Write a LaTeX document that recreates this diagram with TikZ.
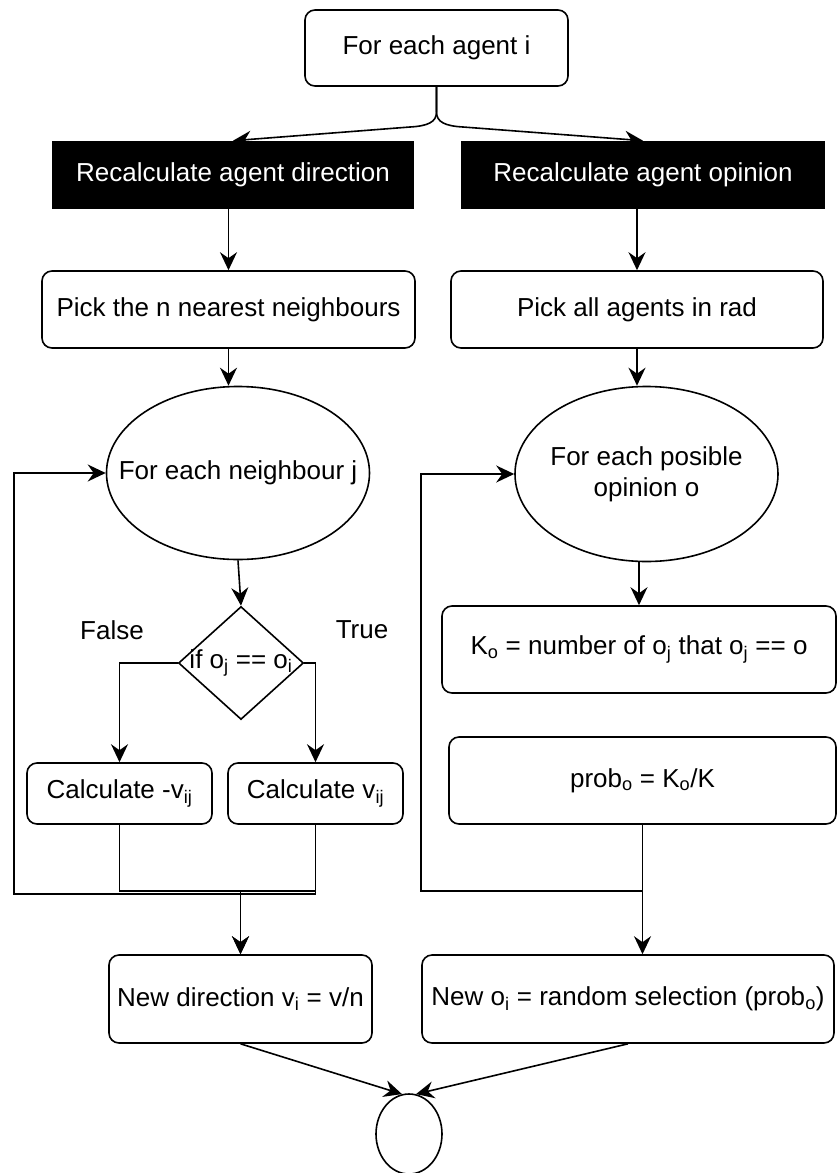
\documentclass[tikz,border=0pt]{standalone}
\usepackage{fontspec}
\setmainfont{Liberation Sans}
\usepackage{tikz}
\usetikzlibrary{arrows.meta,shapes.geometric,backgrounds}
\tikzset{
  procbox/.style={draw,line width=1.6pt,rounded corners=10pt,fill=white,align=center,inner sep=2pt},
  headbox/.style={draw,line width=1.6pt,fill=black,text=white,inner sep=2pt},
  loopnode/.style={draw,line width=1.6pt,ellipse,fill=white,inner sep=0pt},
  condnode/.style={draw,line width=1.6pt,diamond,fill=white,inner sep=0pt},
  flow/.style={line width=1.6pt,-{Stealth[length=18pt,width=17pt,inset=6pt]}},
}

\begin{document}
\begin{tikzpicture}[x=1pt,y=-1pt,font=\fontsize{26}{31}\selectfont]
  \useasboundingbox (0,0) rectangle (837,1173);
  \node[procbox,minimum width=263pt,minimum height=76pt] (agent) at (436.5,48) {For each agent i};
  \node[headbox,minimum width=360pt,minimum height=67pt] (dirbox) at (233,175) {Recalculate agent direction};
  \node[headbox,minimum width=362pt,minimum height=67pt] (opinbox) at (643,175) {Recalculate agent opinion};
  \node[procbox,minimum width=373pt,minimum height=77pt] (pickn) at (228.5,309.5) {Pick the n nearest neighbours};
  \node[procbox,minimum width=372pt,minimum height=77pt] (pickall) at (637,309.5) {Pick all agents in rad};
  \node[loopnode,minimum width=263pt,minimum height=173pt] (neigh) at (238,473) {};
  \node (neightxt) at (neigh) {For each neighbour j};
  \node[loopnode,minimum width=263pt,minimum height=175pt] (posib) at (646.5,474) {};
  \node[align=center] (posibtxt) at (posib) {For each posible\\opinion o};
  \node[condnode,minimum width=125pt,minimum height=113pt] (cond) at (241,663) {};
  \node (condtxt) at (cond) {if o\textsubscript{j} == o\textsubscript{i}};
  \node (false) at (112,630) {False};
  \node (true) at (362,630) {True};
  \node[procbox,minimum width=185pt,minimum height=61pt] (calcneg) at (119.5,793.5) {Calculate -v\textsubscript{ij}};
  \node[procbox,minimum width=175pt,minimum height=61pt] (calcpos) at (315.5,793.5) {Calculate v\textsubscript{ij}};
  \node[procbox,minimum width=394pt,minimum height=87pt] (kcount) at (639,649.5) {K\textsubscript{o} = number of o\textsubscript{j} that o\textsubscript{j} == o};
  \node[procbox,minimum width=387pt,minimum height=87pt] (prob) at (642.5,780.5) {prob\textsubscript{o} = K\textsubscript{o}/K};
  \node[procbox,minimum width=263pt,minimum height=88pt] (newdir) at (240.5,999) {New direction v\textsubscript{i} = v/n};
  \node[procbox,minimum width=412pt,minimum height=88pt] (newop) at (628,999) {New o\textsubscript{i} = random selection (prob\textsubscript{o})};
  \node[loopnode,minimum width=66pt,minimum height=80pt] (endc) at (409,1134) {};
  \begin{pgfonlayer}{background}
    \draw[flow] (agent.south) -- (436.5,112) .. controls (436.5,122) and (428,126) .. (410,127) -- (dirbox.north);
    \draw[flow] (agent.south) -- (436.5,112) .. controls (436.5,122) and (445,126) .. (463,127) -- (opinbox.north);
    \draw[flow] (pickn.north |- dirbox.south) -- (pickn.north);
    \draw[flow] (pickall.north |- opinbox.south) -- (pickall.north);
    \draw[flow] (pickn.south) -- (pickn.south |- neigh.north);
    \draw[flow] (pickall.south) -- (pickall.south |- posib.north);
    \draw[flow] (neigh.south) -- (cond.north);
    \draw[flow] (cond.west) -| (calcneg.north);
    \draw[flow] (cond.east) -| (calcpos.north);
    \draw[flow] (calcneg.south) -- ++(0,66) -| (newdir.north);
    \draw[flow] (calcpos.south) -- ++(0,66) -| (newdir.north);
    \draw[flow] (calcpos.south) -- ++(0,69) -| (14,473) -- (neigh.west);
    \draw[flow] (kcount.north |- posib.south) -- (kcount.north);
    \draw[flow] (prob.south) -- ++(0,66) -| (421,474) -- (posib.west);
    \draw[flow] (prob.south) -- (prob.south |- newop.north);
    \draw[flow] (newdir.south) -- (endc.100);
    \draw[flow] (newop.south) -- (endc.80);
  \end{pgfonlayer}
\end{tikzpicture}
\end{document}
